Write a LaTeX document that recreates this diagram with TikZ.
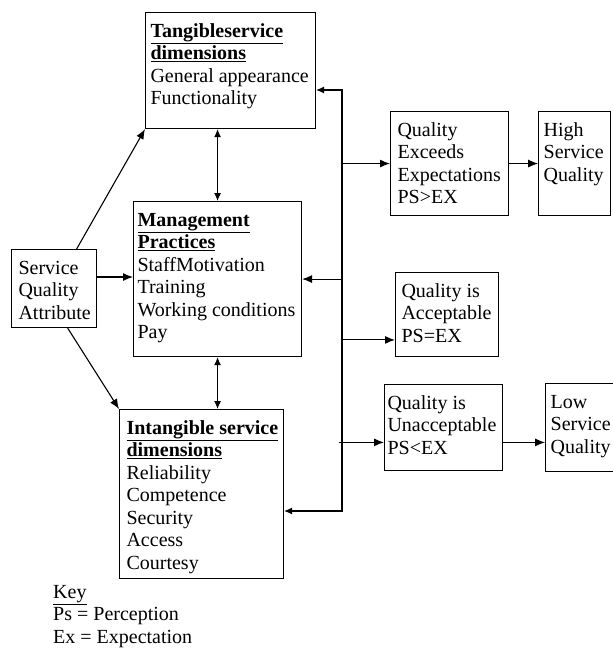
\documentclass[tikz,border=0pt]{standalone}
\usepackage{fontspec}
\setmainfont{Liberation Serif}
\usetikzlibrary{arrows,arrows.meta,positioning}
\tikzset{
    box/.style={rectangle, draw, line width=1.1pt, anchor=north west,
        inner xsep=7pt, inner ysep=9pt},
    arrow/.style={-{Latex[length=10pt, width=8pt]}, line width=1.1pt},
    darrow/.style={{Latex[length=8pt, width=7pt]}-{Latex[length=8pt, width=7pt]}, line width=1.1pt}
}
\newcommand{\boxlines}[3]{\parbox[t][#1][t]{#2}{\raggedright\strut#3}}
\newcommand{\heading}[1]{\underline{\textbf{#1}}}

\begin{document}
\begin{tikzpicture}[x=1pt, y=-1pt, font=\fontsize{20}{22.5}\selectfont]
    \useasboundingbox (0,0) rectangle (613,648);
    \node[box, inner xsep=5pt] (tang) at (145,12) {\boxlines{98pt}{160pt}{\heading{Tangibleservice}\\ \heading{dimensions}\\ General appearance\\ Functionality}};
    \node[box, inner xsep=4pt] (mgmt) at (133,201) {\boxlines{137pt}{160pt}{\heading{Management}\\ \heading{Practices}\\ StaffMotivation\\ Training\\ Working conditions\\ Pay}};
    \node[box] (sqa) at (11,249) {\boxlines{60pt}{71pt}{Service\\ Quality\\ Attribute}};
    \node[box] (intang) at (119,409) {\boxlines{151pt}{150pt}{\heading{Intangible service}\\ \heading{dimensions}\\ Reliability\\ Competence\\ Security\\ Access\\ Courtesy}};
    \node[box] (exceeds) at (390,111) {\boxlines{86pt}{104pt}{Quality\\ Exceeds\\ Expectations\\ PS>EX}};
    \node[box, inner xsep=5pt, right=29pt of exceeds] (high) {\boxlines{86pt}{62pt}{High\\ Service\\ Quality}};
    \node[box, inner xsep=6pt] (accept) at (395,272) {\boxlines{66pt}{91pt}{Quality is\\ Acceptable\\ PS=EX}};
    \node[box, inner xsep=3pt] (unaccept) at (384,384) {\boxlines{68pt}{112pt}{Quality is\\ Unacceptable\\ PS<EX}};
    \node[box, inner xsep=5pt, right=42pt of unaccept] (low) {\boxlines{70pt}{66pt}{Low\\ Service\\ Quality}};
    \node[anchor=north west, align=left, inner sep=0pt] (key) at (53,585) {\underline{Key}\\ Ps = Perception\\ Ex = Expectation};

    % attribute to the three groups
    \draw[arrow] (sqa) -- (tang.south west);
    \draw[arrow] (sqa.15) -- (sqa.15 -| mgmt.west);
    \draw[arrow] (sqa.-71) -- (intang.north west);
    \draw[darrow] (mgmt.north) -- (mgmt.north |- tang.south);
    \draw[darrow] (mgmt.south) -- (mgmt.south |- intang.north);

    % feedback bus
    \coordinate (bustop) at (342,90);
    \coordinate (busbot) at (342,511);
    \draw[darrow] (bustop -| tang.east) -- (bustop) -- (busbot) -- (busbot -| intang.east);
    \draw[arrow] (bustop |- mgmt.east) -- (mgmt.east);
    \draw[arrow] (bustop |- exceeds.west) -- (exceeds.west);
    \draw[arrow] (bustop |- accept.-154) -- (accept.-154);
    \draw[arrow, shorten <=-3pt] (bustop |- unaccept.-166) -- (unaccept.-166);

    % outcomes
    \draw[arrow] (exceeds) -- (high);
    \draw[arrow] (unaccept.-14) -- (unaccept.-14 -| low.west);
\end{tikzpicture}
\end{document}
